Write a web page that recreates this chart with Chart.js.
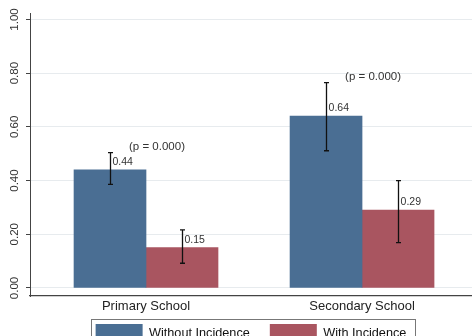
<!DOCTYPE html>
<html>
<head>
<meta charset="utf-8">
<script src="https://cdn.jsdelivr.net/npm/chart.js@4/dist/chart.umd.min.js"></script>
<style>
  html, body { margin: 0; padding: 0; background: #fff; overflow: hidden; }
  #wrap { width: 472px; height: 336px; overflow: hidden; }
  canvas { display: block; }
</style>
</head>
<body>
<div id="wrap"><canvas id="c" width="472" height="340"></canvas></div>
<script>
// School level groups and the two incidence groups
const categories = ['Primary School', 'Secondary School'];
const seriesNames = ['Without Incidence', 'With Incidence'];

// Proportions per group
const withoutIncidence = [0.44, 0.64];
const withIncidence = [0.15, 0.29];

// 95% confidence limits
const withoutLow = [0.386, 0.511];
const withoutHigh = [0.504, 0.765];
const withLow = [0.092, 0.169];
const withHigh = [0.216, 0.400];

// Test of difference within each school level
const pValues = [0.000, 0.000];

// Y axis tick values
const yTickValues = [0, 0.2, 0.4, 0.6, 0.8, 1.0];

const FONT = '"Liberation Sans", Arial, Helvetica, sans-serif';

const toPoints = arr => arr.map((v, i) => ({ x: i + 1, y: v }));

// The x axis box is kept short so the legend sits close to the plot;
// give its labels room below the box so they are not clipped.
const labelRoom = {
  id: 'labelRoom',
  afterLayout(chart) {
    const xs = chart.scales.x;
    xs.bottom = xs.top + 26;
  }
};

// Confidence intervals, value labels and p-value notes
const annotate = {
  id: 'annotate',
  afterDatasetsDraw(chart) {
    const ctx = chart.ctx;
    const ys = chart.scales.y;
    const xs = chart.scales.x;
    chart.data.datasets.forEach((ds, di) => {
      const meta = chart.getDatasetMeta(di);
      meta.data.forEach((bar, i) => {
        const x = Math.round(bar.x) + 0.5;
        const yl = ys.getPixelForValue(ds.ciLow[i]);
        const yh = ys.getPixelForValue(ds.ciHigh[i]);
        ctx.save();
        ctx.strokeStyle = '#111';
        ctx.lineWidth = 1.3;
        ctx.beginPath();
        ctx.moveTo(x, yl); ctx.lineTo(x, yh);
        ctx.moveTo(x - 2.5, yl); ctx.lineTo(x + 2.5, yl);
        ctx.moveTo(x - 2.5, yh); ctx.lineTo(x + 2.5, yh);
        ctx.stroke();
        ctx.fillStyle = '#333';
        ctx.font = '10.5px ' + FONT;
        ctx.textAlign = 'left';
        ctx.textBaseline = 'middle';
        ctx.fillText(ds.data[i].y.toFixed(2), bar.x + 2.5, bar.y - 7.5);
        ctx.restore();
      });
    });
    categories.forEach((c, i) => {
      const top = Math.max(withoutHigh[i], withHigh[i]);
      const px = xs.getPixelForValue(i + 1) + 11;
      const py = ys.getPixelForValue(top) - 6;
      ctx.save();
      ctx.fillStyle = '#333';
      ctx.font = '11.5px ' + FONT;
      ctx.textAlign = 'center';
      ctx.textBaseline = 'middle';
      ctx.fillText('(p = ' + pValues[i].toFixed(3) + ')', px, py);
      ctx.restore();
    });
  }
};

// Frame around the legend entries
const legendFrame = {
  id: 'legendFrame',
  afterDraw(chart) {
    const lg = chart.legend;
    if (!lg || !lg.legendHitBoxes || !lg.legendHitBoxes.length) return;
    const hb = lg.legendHitBoxes;
    const first = hb[0], last = hb[hb.length - 1];
    const left = Math.round(first.left - 5) + 0.5;
    const top = Math.round(first.top - 5) + 0.5;
    const right = Math.round(last.left + last.width + 9) + 0.5;
    const ctx = chart.ctx;
    ctx.save();
    ctx.strokeStyle = '#777';
    ctx.lineWidth = 1;
    ctx.strokeRect(left, top, right - left, chart.height + 10 - top);
    ctx.restore();
  }
};

new Chart(document.getElementById('c'), {
  type: 'bar',
  data: {
    datasets: [
      {
        label: seriesNames[0],
        data: toPoints(withoutIncidence),
        ciLow: withoutLow,
        ciHigh: withoutHigh,
        backgroundColor: '#4a6e93',
        borderWidth: 0,
        barThickness: 72
      },
      {
        label: seriesNames[1],
        data: toPoints(withIncidence),
        ciLow: withLow,
        ciHigh: withHigh,
        backgroundColor: '#a95560',
        borderWidth: 0,
        barThickness: 72
      }
    ]
  },
  options: {
    responsive: false,
    animation: false,
    devicePixelRatio: 1,
    layout: { padding: { top: 13, right: 0, bottom: 0, left: 3 } },
    scales: {
      x: {
        type: 'linear',
        min: 0.463,
        max: 2.509,
        offset: false,
        grid: { display: false, drawTicks: false },
        border: { display: true, color: '#444', width: 1.2 },
        afterBuildTicks: s => { s.ticks = categories.map((c, i) => ({ value: i + 1 })); },
        afterFit: s => { s.height = 8; },
        ticks: {
          padding: 3,
          maxRotation: 0,
          autoSkip: false,
          color: '#222',
          font: { family: FONT, size: 13 },
          callback: v => categories[v - 1]
        }
      },
      y: {
        min: -0.03,
        max: 1.024,
        afterBuildTicks: s => { s.ticks = yTickValues.map(v => ({ value: v })); },
        afterFit: s => { s.width = 27; s.paddingTop = 0; s.paddingBottom = 0; },
        grid: { color: '#e7ebee', lineWidth: 1, drawTicks: true, tickLength: 4, tickColor: '#444' },
        border: { display: true, color: '#444', width: 1 },
        ticks: {
          minRotation: 90,
          maxRotation: 90,
          crossAlign: 'center',
          padding: 0,
          color: '#333',
          font: { family: FONT, size: 11.5 },
          callback: v => Number(v).toFixed(2)
        }
      }
    },
    plugins: {
      tooltip: { enabled: false },
      legend: {
        position: 'bottom',
        fullSize: false,
        maxHeight: 36,
        labels: {
          boxWidth: 47,
          boxHeight: 18,
          padding: 20,
          color: '#111',
          font: { family: FONT, size: 12.7 }
        }
      }
    }
  },
  plugins: [labelRoom, annotate, legendFrame]
});
</script>
</body>
</html>
